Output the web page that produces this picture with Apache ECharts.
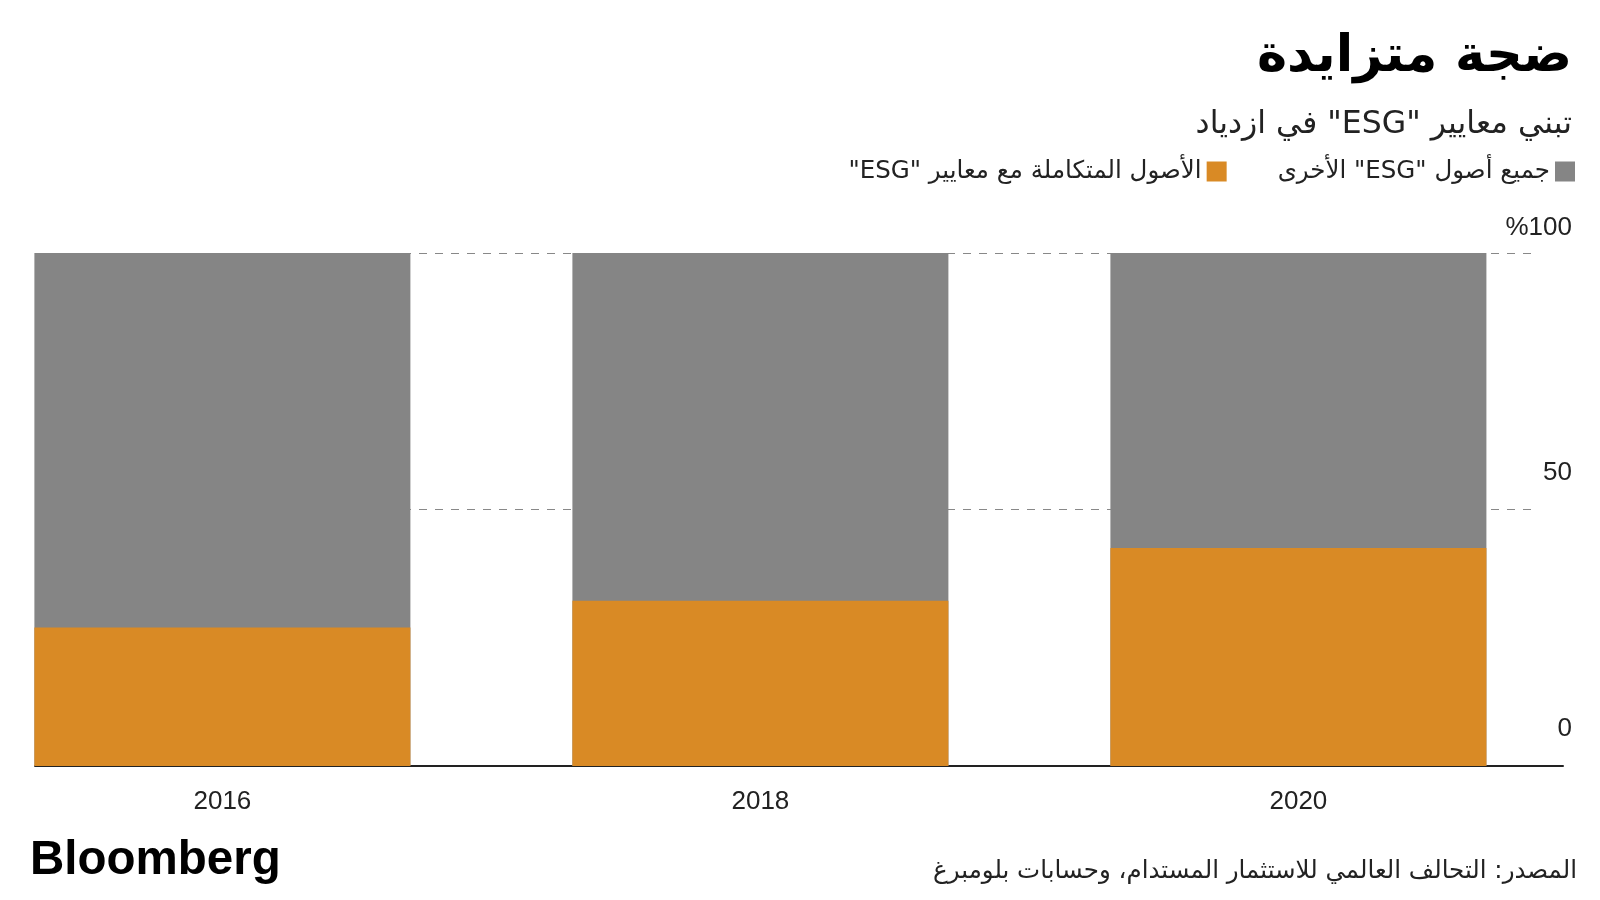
<!DOCTYPE html>
<html>
<head>
<meta charset="utf-8">
<script src="https://cdn.jsdelivr.net/npm/echarts@6/dist/echarts.min.js"></script>
<style>
  html, body { margin: 0; padding: 0; background: #fff; }
  #chart { width: 1600px; height: 900px; }
</style>
</head>
<body>
<div id="chart" dir="rtl"></div>
<script>
// years on the x axis
const years = ["2016", "2018", "2020"];
// share of assets, percent (orange at the bottom, grey on top of it)
const esgShare = [27, 32.2, 42.5];
const otherShare = [73, 67.8, 57.5];
const yTicks = [0, 50, 100];

const esgName = "الأصول المتكاملة مع معايير \"ESG\"";
const otherName = "جميع أصول \"ESG\" الأخرى";

const FONT = "'Liberation Sans', 'DejaVu Sans', sans-serif";
const ARABIC = "'DejaVu Sans', sans-serif";

const chart = echarts.init(document.getElementById("chart"));

const plotTop = 253;
const plotBottom = 134;

// bars sit at positions 0,1,2 on a value axis so the first bar can touch the axis start.
// stacking is not done by index on a value base axis, so the grey bar runs to the
// full stack height and the orange one is drawn over its lower part
const esgPoints = esgShare.map((v, i) => [i, v]);
const stackPoints = otherShare.map((v, i) => [i, esgShare[i] + v]);

const option = {
    backgroundColor: "#fff",
    animation: false,
    textStyle: { fontFamily: FONT },
    title: [
        {
            text: "ضجة متزايدة",
            right: 23, top: 27,
            textStyle: { fontFamily: ARABIC, fontSize: 51, fontWeight: "bold", color: "#000" }
        },
        {
            text: "تبني معايير \"ESG\" في ازدياد",
            right: 23, top: 104,
            textStyle: { fontFamily: ARABIC, fontSize: 31.5, fontWeight: "normal", color: "#222" }
        },
        {
            text: "المصدر: التحالف العالمي للاستثمار المستدام، وحسابات بلومبرغ",
            right: 18, top: 854,
            textStyle: { fontFamily: ARABIC, fontSize: 24.5, fontWeight: "normal", color: "#222" }
        },
        {
            text: "Bloomberg",
            left: 25, top: 832,
            textStyle: { fontFamily: FONT, fontSize: 47.5, fontWeight: "bold", color: "#000" }
        }
    ],
    legend: {
        data: [esgName, otherName],
        right: 20, top: 154,
        align: "right",
        icon: "rect",
        itemWidth: 20, itemHeight: 20,
        itemGap: 51,
        textStyle: { fontFamily: ARABIC, fontSize: 24.5, color: "#222" }
    },
    grid: [
        // bars and baseline
        { left: 35, right: 37, top: plotTop, bottom: plotBottom, outerBoundsMode: "none" },
        // dashed gridlines and y labels
        { left: 35, right: 61, top: plotTop, bottom: plotBottom, outerBoundsMode: "none" }
    ],
    xAxis: [
        {
            type: "value", gridIndex: 0, min: -0.3483, max: 2.4918,
            axisLine: { show: true, onZero: false, lineStyle: { color: "#222", width: 2 } },
            axisTick: { show: false },
            splitLine: { show: false },
            axisLabel: {
                customValues: [0, 1, 2],
                formatter: (v) => years[Math.round(v)],
                fontSize: 26, color: "#222", margin: 23
            }
        },
        {
            type: "value", gridIndex: 1, min: 0, max: 1, show: false
        }
    ],
    yAxis: [
        { type: "value", gridIndex: 0, min: 0, max: 100, show: false },
        {
            type: "value", gridIndex: 1, min: 0, max: 100, interval: 50,
            position: "right",
            axisLine: { show: false }, axisTick: { show: false },
            splitLine: { show: true, lineStyle: { color: "#888", width: 1, type: [8, 8] } },
            axisLabel: {
                align: "right",
                verticalAlign: "bottom",
                margin: 33,
                formatter: function (v) {
                    if (yTicks.indexOf(v) < 0) return "";
                    return v === 100 ? "{t|%100}" : "{n|" + v + "}";
                },
                rich: {
                    t: { fontSize: 26, color: "#222", lineHeight: 51, fontFamily: FONT },
                    n: { fontSize: 26, color: "#222", lineHeight: 74, fontFamily: FONT }
                }
            }
        }
    ],
    series: [
        {
            name: otherName, type: "bar",
            xAxisIndex: 0, yAxisIndex: 0,
            barWidth: 376, barGap: "-100%",
            itemStyle: { color: "#858585" },
            data: stackPoints
        },
        {
            name: esgName, type: "bar",
            xAxisIndex: 0, yAxisIndex: 0,
            barWidth: 376, barGap: "-100%",
            itemStyle: { color: "#D98A25" },
            data: esgPoints
        }
    ]
};

chart.setOption(option);
</script>
</body>
</html>
